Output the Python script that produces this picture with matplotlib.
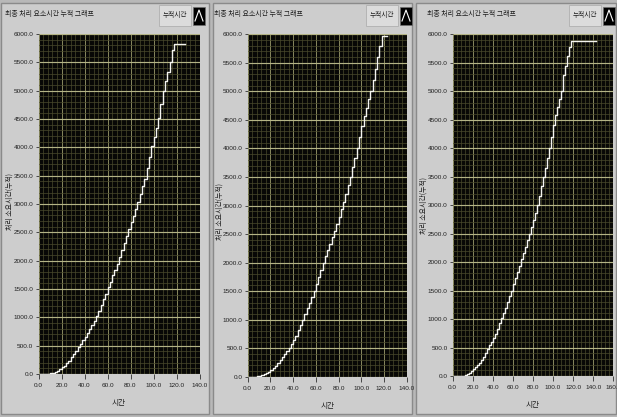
import numpy as np
import matplotlib
matplotlib.use("Agg")
import matplotlib.pyplot as plt
from matplotlib.patches import Rectangle
from matplotlib.lines import Line2D
from matplotlib.ticker import MultipleLocator, FormatStrFormatter

plt.rcParams['font.family'] = ['Liberation Sans Narrow', 'Liberation Sans', 'DejaVu Sans']
KR = ['Noto Sans CJK KR', 'DejaVu Sans']

# 누적 처리시간 (3개 실행 결과)
t1 = [0, 2, 4, 6, 8, 10, 12, 14, 16, 18, 20, 22, 24, 26, 28, 30, 32, 34, 36, 38,
      40, 42, 44, 46, 48, 50, 52, 54, 56, 58, 60, 62, 64, 66, 68, 70, 72, 74, 76, 78,
      80, 82, 84, 86, 88, 90, 92, 94, 96, 98, 100, 102, 104, 106, 108, 110, 112, 114,
      116, 118, 120, 122, 124, 127]
acc1 = [0, 0, 0, 0, 0, 10, 25, 40, 60, 85, 115, 150, 190, 235, 295, 360, 410, 470, 530, 595,
        660, 730, 800, 870, 940, 1020, 1120, 1220, 1320, 1420, 1530, 1630, 1740, 1840, 1950,
        2060, 2180, 2310, 2430, 2560, 2680, 2790, 2910, 3030, 3170, 3310, 3450, 3640, 3830,
        4020, 4190, 4350, 4520, 4760, 5000, 5170, 5330, 5500, 5720, 5830, 5830, 5830, 5830, 5830]

t2 = [0, 2, 4, 6, 8, 10, 12, 14, 16, 18, 20, 22, 24, 26, 28, 30, 32, 34, 36, 38,
      40, 42, 44, 46, 48, 50, 52, 54, 56, 58, 60, 62, 64, 66, 68, 70, 72, 74, 76, 78,
      80, 82, 84, 86, 88, 90, 92, 94, 96, 98, 100, 102, 104, 106, 108, 110, 112, 114,
      116, 118, 120, 123]
acc2 = [0, 0, 0, 0, 8, 20, 35, 50, 70, 90, 117, 150, 190, 235, 290, 350, 400, 455, 510, 570,
        640, 720, 810, 900, 1000, 1100, 1200, 1300, 1400, 1500, 1620, 1740, 1870, 2000, 2110,
        2220, 2330, 2440, 2560, 2680, 2800, 2930, 3070, 3210, 3360, 3500, 3670, 3830, 4000,
        4200, 4400, 4570, 4710, 4860, 5000, 5200, 5400, 5600, 5800, 5970, 5970, 5970]

t3 = [0, 2, 4, 6, 8, 10, 12, 14, 16, 18, 20, 22, 24, 26, 28, 30, 32, 34, 36, 38,
      40, 42, 44, 46, 48, 50, 52, 54, 56, 58, 60, 62, 64, 66, 68, 70, 72, 74, 76, 78,
      80, 82, 84, 86, 88, 90, 92, 94, 96, 98, 100, 102, 104, 106, 108, 110, 112, 114,
      116, 118, 125, 135, 143]
acc3 = [0, 0, 0, 0, 0, 5, 15, 35, 60, 85, 117, 150, 185, 230, 280, 330, 400, 480, 545, 600,
        665, 740, 830, 930, 1020, 1110, 1200, 1300, 1400, 1500, 1610, 1720, 1830, 1940, 2050,
        2160, 2270, 2380, 2500, 2620, 2740, 2870, 3000, 3160, 3330, 3500, 3660, 3830, 4000,
        4200, 4400, 4580, 4720, 4860, 5000, 5280, 5450, 5620, 5780, 5890, 5890, 5890, 5890]

title = "최종 처리 요소시간 누적 그래프"
legend_name = "누적시간"
ylab = "처리 소요시간(누적)"
xlab = "시간"

W, H = 617, 417
BG = "#cdcdcd"


def px(x0, y0, w, h):
    # 픽셀 좌표 -> figure 좌표
    return [x0 / W, 1 - (y0 + h) / H, w / W, h / H]


def panel(fig, frame, plot, x, y, xmax, title_x, leg_x, ylab_x, ylab_y):
    fx0, fx1 = frame
    fig.patches.append(Rectangle((fx0 / W, 3 / H), (fx1 - fx0) / W, (H - 6) / H,
                                 transform=fig.transFigure, facecolor=BG,
                                 edgecolor="#8a8a8a", lw=1.0, zorder=-10))
    # 제목
    fig.text(title_x / W, 1 - 14 / H, title, family=KR, fontsize=5,
             va="center", ha="left", color="#202020")
    # 범례 상자
    fig.patches.append(Rectangle((leg_x / W, 1 - 26 / H), 32 / W, 21 / H,
                                 transform=fig.transFigure, facecolor="#dcdcdc",
                                 edgecolor="#b0b0b0", lw=0.6))
    fig.text((leg_x + 16) / W, 1 - 15.5 / H, legend_name, family=KR, fontsize=4.8,
             va="center", ha="center", color="#202020")
    ix = leg_x + 34
    fig.patches.append(Rectangle((ix / W, 1 - 25 / H), 12 / W, 18 / H,
                                 transform=fig.transFigure, facecolor="black",
                                 edgecolor="#707070", lw=0.5))
    fig.lines.append(Line2D([(ix + 2) / W, (ix + 6) / W, (ix + 10) / W],
                            [1 - 21 / H, 1 - 10 / H, 1 - 21 / H],
                            transform=fig.transFigure, color="white", lw=0.8))

    ax = fig.add_axes(px(*plot))
    ax.set_facecolor("#080806")
    ax.step(x, y, where="post", color="#f4f4f0", lw=1.0, zorder=3)
    ax.set_xlim(0, xmax)
    ax.set_ylim(0, 6000)
    ax.xaxis.set_major_locator(MultipleLocator(20))
    ax.xaxis.set_minor_locator(MultipleLocator(4))
    ax.yaxis.set_major_locator(MultipleLocator(500))
    ax.yaxis.set_minor_locator(MultipleLocator(100))
    ax.xaxis.set_major_formatter(FormatStrFormatter("%.1f"))
    ax.yaxis.set_major_formatter(FormatStrFormatter("%.1f"))
    ax.grid(which="minor", color="#4a4a2c", lw=0.5)
    ax.grid(which="major", axis="y", color="#b4b486", lw=0.85)
    ax.grid(which="major", axis="x", color="#9c9c6c", lw=0.6)
    ax.set_axisbelow(True)
    ax.tick_params(which="minor", length=0)
    ax.tick_params(which="major", length=2.5, width=0.6, color="#303030",
                   labelsize=4.6, labelcolor="#202020", pad=1.2)
    ax.tick_params(axis="x", which="major", length=3.5, pad=3)
    for s in ax.spines.values():
        s.set_visible(False)
    ax.set_xlabel(xlab, family=KR, fontsize=5.5, color="#202020", labelpad=8)
    fig.text(ylab_x / W, 1 - ylab_y / H, ylab, family=KR, fontsize=5,
             rotation=90, va="center", ha="center", color="#202020")
    return ax


def main():
    fig = plt.figure(figsize=(W / 100, H / 100), dpi=100)
    fig.patch.set_facecolor("#b8b8b8")

    panel(fig, (1, 209), (38.5, 34, 161, 340), t1, acc1, 140,
          5, 159, 10, 202)
    panel(fig, (213, 412), (247.7, 34.3, 159, 342.4), t2, acc2, 140,
          214, 366, 220, 212)
    panel(fig, (416, 616), (452.7, 34.3, 160.6, 341.7), t3, acc3, 160,
          427, 569, 423.5, 205)

    fig.savefig("out.png", dpi=100, facecolor=fig.get_facecolor())


if __name__ == "__main__":
    main()
